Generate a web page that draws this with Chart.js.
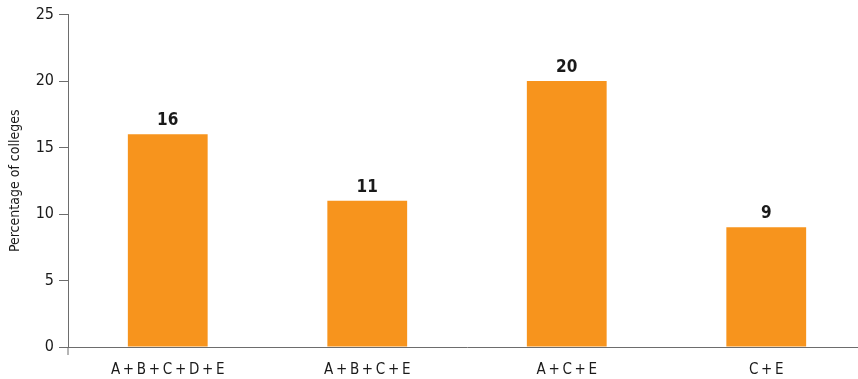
<!DOCTYPE html>
<html>
<head>
<meta charset="utf-8">
<script src="https://cdn.jsdelivr.net/npm/chart.js@4"></script>
<style>
  html, body { margin: 0; padding: 0; background: #fff; overflow: hidden; }
  #wrap { width: 866px; height: 379px; }
</style>
</head>
<body>
<div id="wrap"><canvas id="collegeChart"></canvas></div>
<script>
const categories = ["A + B + C + D + E", "A + B + C + E", "A + C + E", "C + E"];
const percentages = [16, 11, 20, 9];
const yTicks = [0, 5, 10, 15, 20, 25];

const FONT = "'DejaVu Sans Condensed', 'DejaVu Sans', sans-serif";
const AXIS = "#6d6d6d";

// value labels above each bar
const barValues = {
    id: "barValues",
    afterDatasetsDraw(chart) {
        const ctx = chart.ctx;
        const meta = chart.getDatasetMeta(0);
        ctx.save();
        ctx.font = "bold 17px " + FONT;
        ctx.fillStyle = "#1a1a1a";
        ctx.textAlign = "center";
        ctx.textBaseline = "bottom";
        meta.data.forEach((bar, i) => {
            ctx.fillText(String(percentages[i]), bar.x, bar.y - 5);
        });
        // y axis runs a little past the baseline
        const x = chart.scales.y.right;
        const y0 = chart.scales.y.getPixelForValue(0);
        ctx.strokeStyle = AXIS;
        ctx.lineWidth = 1;
        ctx.beginPath();
        ctx.moveTo(x, y0);
        ctx.lineTo(x, y0 + 8);
        ctx.stroke();
        ctx.restore();
    }
};

new Chart(document.getElementById("collegeChart"), {
    type: "bar",
    data: {
        labels: categories,
        datasets: [{
            data: percentages,
            backgroundColor: "#f7941d",
            barPercentage: 0.4,
            categoryPercentage: 1
        }]
    },
    options: {
        responsive: true,
        maintainAspectRatio: false,
        animation: false,
        layout: { padding: { top: 14, left: 0, right: 0, bottom: 0 } },
        plugins: { legend: { display: false }, tooltip: { enabled: false } },
        scales: {
            x: {
                grid: { display: false },
                border: { color: AXIS, width: 1 },
                ticks: {
                    color: "#1a1a1a",
                    font: { family: FONT, size: 15 },
                    padding: 6,
                    // tighter spacing round the plus signs
                    callback: (v, i) => categories[i].replace(/ /g, "\u2009")
                },
                afterFit: s => { s.height = 32; }
            },
            y: {
                min: 0,
                max: 25,
                afterBuildTicks: s => { s.ticks = yTicks.map(v => ({ value: v })); },
                grid: { drawOnChartArea: false, tickLength: 9, color: AXIS },
                border: { color: AXIS, width: 1 },
                ticks: { color: "#1a1a1a", font: { family: FONT, size: 16 }, padding: 5 },
                title: {
                    display: true,
                    text: "Percentage of colleges",
                    color: "#1a1a1a",
                    font: { family: FONT, size: 14 },
                    padding: { top: 7, bottom: 0 }
                },
                afterFit: s => { s.width = 68; }
            }
        }
    },
    plugins: [barValues]
});
</script>
</body>
</html>
